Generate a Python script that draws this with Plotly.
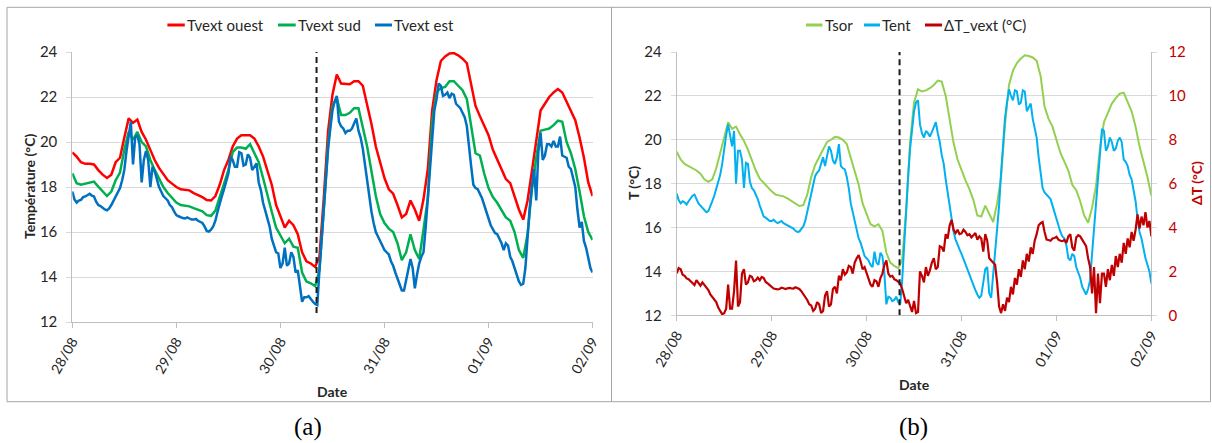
import numpy as np
import pandas as pd
import plotly.graph_objects as go

# ---------------- data (28/08 00:00 -> 02/09 00:00) ----------------
start = pd.Timestamp("2014-08-28 00:00")
end = pd.Timestamp("2014-09-02 00:00")
event_time = pd.Timestamp("2014-08-30 08:20")
date_labels = ["28/08", "29/08", "30/08", "31/08", "01/09", "02/09"]

# hourly readings
tvext_ouest = [
    19.54, 19.35, 19.10, 19.03, 19.03, 19.00, 18.75, 18.55, 18.40, 18.55,
    19.10, 19.30, 20.20, 21.05, 20.85, 21.00, 20.45, 20.10, 19.65, 19.20,
    18.85, 18.55, 18.30, 18.15, 18.00, 17.90, 17.87, 17.85, 17.73, 17.65,
    17.55, 17.42, 17.40, 17.60, 18.10, 18.75, 19.20, 19.80, 20.15, 20.30,
    20.30, 20.30, 20.15, 19.80, 19.35, 18.75, 18.10, 17.20, 16.70, 16.20,
    16.50, 16.30, 15.90, 15.10, 14.70, 14.60, 14.45, 14.90, 17.50, 20.50,
    22.10, 23.00, 22.60, 22.57, 22.57, 22.70, 22.70, 22.50, 21.70, 20.80,
    19.80, 19.05, 18.40, 17.90, 17.70, 17.20, 16.65, 16.80, 17.40, 17.00,
    16.50, 17.45, 18.80, 21.40, 22.75, 23.60, 23.80, 23.93, 23.95, 23.85,
    23.70, 23.50, 22.60, 21.60, 21.15, 20.70, 20.30, 19.65, 19.20, 18.80,
    18.35, 18.17, 17.60, 17.00, 16.55, 17.40, 18.70, 20.10, 21.40, 21.70,
    22.00, 22.20, 22.35, 22.20, 21.80, 21.40, 20.97, 20.20, 19.30, 18.20,
    17.60,
]
tvext_sud = [
    18.61, 18.17, 18.10, 18.14, 18.17, 18.24, 18.02, 17.80, 17.60, 17.80,
    18.30, 18.64, 19.65, 20.45, 20.10, 20.45, 20.00, 19.80, 19.20, 18.76,
    18.40, 18.00, 17.73, 17.50, 17.31, 17.20, 17.18, 17.14, 17.06, 16.99,
    16.92, 16.75, 16.72, 16.95, 17.55, 18.20, 18.75, 19.55, 19.75, 19.75,
    19.70, 19.90, 19.50, 19.10, 18.40, 17.60, 16.90, 16.20, 15.85, 15.50,
    15.70, 15.35, 15.30, 14.20, 13.80, 13.72, 13.60, 14.30, 17.00, 19.90,
    21.60, 21.95, 21.20, 21.20, 21.30, 21.50, 21.50, 20.60, 19.80, 18.70,
    17.60, 16.80, 16.40, 16.15, 16.00, 15.50, 14.75, 15.10, 15.90, 15.20,
    14.80, 16.10, 17.50, 20.90, 22.20, 22.40, 22.45, 22.70, 22.70, 22.50,
    22.30, 21.90, 20.60, 19.50, 19.40, 18.60, 17.95, 17.55, 17.30, 17.00,
    16.65, 16.50, 16.00, 15.20, 14.85, 15.90, 17.90, 19.30, 20.50, 20.55,
    20.60, 20.75, 20.95, 20.90, 20.00, 19.50, 18.80, 17.80, 16.70, 16.00,
    15.65,
]
tsor = [
    19.45, 19.10, 18.90, 18.80, 18.72, 18.60, 18.45, 18.20, 18.08, 18.20,
    18.70, 19.40, 20.20, 20.80, 20.50, 20.60, 20.25, 19.95, 19.55, 19.05,
    18.60, 18.23, 18.02, 17.85, 17.65, 17.50, 17.47, 17.42, 17.33, 17.22,
    17.10, 16.98, 17.02, 17.50, 18.30, 18.85, 19.20, 19.55, 19.90, 20.00,
    20.13, 20.10, 20.00, 19.80, 19.20, 18.60, 17.95, 17.10, 16.64, 16.15,
    16.05, 16.15, 15.85, 14.85, 14.40, 14.25, 14.15, 14.50, 16.80, 19.90,
    21.70, 22.30, 22.20, 22.25, 22.35, 22.50, 22.70, 22.65, 22.00, 21.00,
    19.85, 19.10, 18.60, 18.15, 17.75, 17.25, 16.55, 16.50, 17.00, 16.60,
    16.25, 17.10, 18.30, 20.70, 22.50, 23.15, 23.50, 23.70, 23.85, 23.82,
    23.75, 23.60, 22.90, 21.50, 20.95, 20.60, 20.00, 19.40, 19.00, 18.60,
    17.95, 17.70, 17.20, 16.55, 16.22, 16.90, 17.90, 19.60, 20.80, 21.25,
    21.65, 21.90, 22.10, 22.15, 21.75, 21.30, 20.60, 19.70, 19.00, 18.30,
    17.45,
]

# half-hourly readings (noisier signals)
tvext_est = [
    17.80, 17.45, 17.31, 17.40, 17.43, 17.55, 17.58, 17.65, 17.70, 17.62,
    17.58, 17.35, 17.20, 17.15, 17.06, 17.00, 16.96, 17.05, 17.20, 17.40,
    17.58, 17.75, 17.95, 18.30, 18.76, 19.60, 20.20, 20.90, 19.00, 20.20,
    20.30, 19.90, 18.20, 19.20, 19.60, 19.20, 18.00, 18.90, 18.70, 18.30,
    18.00, 17.80, 17.60, 17.50, 17.40, 17.20, 17.10, 16.90, 16.75, 16.70,
    16.65, 16.62, 16.60, 16.65, 16.60, 16.55, 16.55, 16.58, 16.50, 16.45,
    16.40, 16.25, 16.05, 16.02, 16.10, 16.25, 16.50, 16.90, 17.30, 17.60,
    17.90, 18.30, 18.60, 19.35, 19.20, 18.90, 18.90, 19.55, 19.50, 18.95,
    19.00, 19.45, 19.30, 18.75, 18.90, 19.05, 18.20, 17.85, 17.30, 16.95,
    16.60, 16.25, 15.70, 15.35, 15.10, 15.05, 14.40, 14.60, 15.30, 14.50,
    14.60, 15.10, 14.90, 14.20, 14.30, 13.60, 12.90, 13.10, 13.10, 13.15,
    13.00, 12.90, 12.80, 12.75, 14.30, 15.70, 17.20, 18.50, 19.70, 20.60,
    21.40, 21.80, 22.05, 20.90, 20.70, 20.60, 20.40, 20.50, 20.50, 20.60,
    20.80, 21.05, 20.50, 20.20, 19.70, 19.00, 18.20, 17.50, 16.90, 16.40,
    16.00, 15.80, 15.60, 15.45, 15.20, 15.10, 15.00, 14.70, 14.50, 14.20,
    13.90, 13.60, 13.40, 13.40, 13.90, 14.40, 14.80, 14.40, 13.50, 14.10,
    14.60, 14.90, 15.10, 16.20, 17.50, 19.20, 20.50, 21.40, 21.90, 22.60,
    22.50, 22.05, 22.10, 22.20, 21.95, 22.15, 22.10, 21.70, 21.60, 21.50,
    21.30, 21.10, 20.70, 19.70, 18.90, 18.10, 17.95, 17.90, 17.70, 17.50,
    17.20, 16.85, 16.60, 16.30, 16.10, 15.95, 15.90, 15.70, 15.50, 15.20,
    15.50, 15.40, 14.90, 14.70, 14.40, 14.10, 13.80, 13.65, 13.70, 14.40,
    15.80, 17.10, 18.00, 18.80, 17.40, 19.60, 20.40, 19.20, 19.40, 19.90,
    19.90, 19.80, 20.05, 19.80, 19.80, 20.24, 19.40, 19.35, 19.30, 18.90,
    18.80, 18.40, 18.00, 17.00, 16.20, 16.45, 15.60, 15.30, 14.80, 14.40,
    14.20,
]
tent = [
    17.55, 17.25, 17.10, 17.20, 17.15, 17.05, 17.20, 17.35, 17.45, 17.50,
    17.32, 17.10, 17.00, 16.90, 16.80, 16.70, 16.75, 16.95, 17.20, 17.45,
    17.75, 18.10, 18.40, 18.90, 19.60, 20.20, 20.70, 20.10, 19.70, 20.40,
    18.00, 19.50, 19.50, 19.10, 17.80, 18.95, 18.90, 18.10, 17.80, 17.70,
    17.50, 17.30, 17.00, 16.70, 16.50, 16.45, 16.38, 16.30, 16.30, 16.35,
    16.26, 16.20, 16.25, 16.30, 16.20, 16.15, 16.12, 16.05, 16.00, 15.95,
    15.85, 15.80, 15.82, 15.95, 16.05, 16.30, 16.70, 17.20, 17.60, 18.00,
    18.35, 18.50, 18.60, 18.90, 19.20, 18.80, 19.30, 19.70, 19.50, 19.05,
    18.90, 19.20, 19.80, 18.80, 18.70, 18.65, 18.30, 17.80, 17.10, 16.70,
    16.40, 16.00, 15.50, 15.30, 15.00, 14.70, 14.60, 14.50, 14.30, 14.20,
    14.90, 14.40, 14.30, 14.85, 14.70, 13.90, 12.50, 12.85, 12.80, 12.65,
    12.70, 12.85, 12.60, 12.50, 13.60, 15.30, 17.00, 18.30, 19.60, 20.60,
    21.30, 21.70, 21.80, 20.70, 20.30, 20.10, 20.40, 20.30, 20.15, 20.35,
    20.60, 20.80, 20.30, 19.90, 19.30, 18.90, 18.20, 17.60, 17.00, 16.40,
    15.80, 15.45, 15.20, 15.00, 14.80, 14.55, 14.35, 14.10, 13.90, 13.65,
    13.40, 13.15, 12.95, 12.80, 12.90, 13.50, 14.10, 14.20, 13.00, 12.80,
    13.90, 14.70, 15.80, 17.00, 18.50, 20.00, 21.00, 21.70, 22.30, 22.00,
    21.80, 22.25, 22.20, 21.60, 21.70, 22.25, 22.20, 21.30, 21.50, 21.65,
    20.95, 20.50, 20.10, 19.20, 18.40, 17.80, 17.60, 17.50, 17.45, 17.30,
    17.00, 16.70, 16.34, 16.10, 15.80, 15.60, 15.50, 15.20, 14.60, 14.50,
    14.80, 14.70, 14.20, 13.95, 13.70, 13.30, 13.10, 12.95, 13.20, 13.60,
    14.80, 16.00, 17.30, 18.50, 19.30, 20.50, 20.40, 19.50, 19.70, 20.10,
    19.90, 19.50, 19.60, 19.95, 20.10, 19.90, 19.10, 19.00, 18.80, 18.40,
    18.20, 17.70, 17.20, 16.40, 15.80, 15.50, 15.00, 14.60, 14.30, 14.00,
    13.45,
]
delta_t_vext = [
    1.91, 2.15, 2.10, 1.85, 1.80, 1.68, 1.65, 1.55, 1.45, 1.38,
    1.60, 1.45, 1.35, 1.50, 1.40, 1.25, 1.15, 0.95, 0.85, 0.75,
    0.60, 0.35, 0.20, 0.05, 0.10, 0.30, 1.40, 0.30, 0.30, 1.10,
    2.50, 0.40, 0.60, 1.90, 2.10, 1.40, 1.50, 1.80, 1.75, 1.55,
    1.60, 1.72, 1.60, 1.75, 1.70, 1.52, 1.45, 1.35, 1.30, 1.22,
    1.20, 1.18, 1.20, 1.26, 1.23, 1.20, 1.23, 1.25, 1.23, 1.22,
    1.28, 1.24, 1.20, 1.10, 0.97, 0.85, 0.70, 0.50, 0.45, 0.20,
    0.30, 0.60, 0.50, 0.10, 0.20, 0.90, 1.10, 0.40, 0.50, 1.20,
    1.30, 1.00, 1.80, 1.60, 2.10, 1.85, 1.95, 2.25, 2.20, 1.90,
    2.40, 2.60, 2.75, 2.45, 2.10, 2.20, 1.90, 1.70, 1.40, 1.30,
    1.60, 1.55, 1.30, 1.70, 1.90, 2.30, 2.50, 1.90, 1.76, 1.80,
    1.65, 1.60, 1.50, 1.45, 1.20, 0.90, 0.55, 0.70, 0.40, 0.15,
    0.65, 0.10, 0.15, 2.00, 1.80, 1.50, 2.20, 1.80, 2.05, 2.40,
    2.60, 2.10, 2.20, 3.15, 3.10, 2.90, 3.70, 3.50, 4.10, 4.35,
    3.90, 3.75, 3.90, 3.70, 3.73, 3.90, 3.80, 3.65, 3.70, 3.55,
    3.65, 3.75, 3.45, 3.60, 3.50, 2.90, 3.70, 3.40, 2.60, 2.50,
    2.40, 2.30, 1.50, 0.40, 0.10, 0.50, 0.20, 0.80, 0.60, 1.30,
    0.95, 1.70, 1.40, 2.10, 1.75, 2.50, 2.10, 2.80, 2.45, 3.10,
    2.80, 3.40, 3.70, 4.10, 4.20, 4.25, 3.80, 3.45, 3.43, 3.40,
    3.50, 3.52, 3.58, 3.45, 3.40, 3.38, 3.43, 3.30, 3.60, 3.70,
    3.10, 2.95, 3.55, 3.65, 3.60, 3.45, 3.30, 3.15, 2.60, 2.20,
    1.00, 2.20, 0.10, 1.90, 0.55, 1.90, 1.90, 1.30, 2.10, 1.60,
    2.30, 1.80, 2.70, 2.20, 2.80, 2.40, 3.30, 2.80, 3.50, 3.10,
    3.80, 3.40, 3.90, 4.60, 3.95, 4.50, 4.10, 4.70, 4.00, 4.30,
    3.60,
]

for s in (tvext_ouest, tvext_sud, tsor):
    assert len(s) == 121, len(s)
for s in (tvext_est, tent, delta_t_vext):
    assert len(s) == 241, len(s)

times = pd.date_range(start, periods=121, freq="h")
times_half = pd.date_range(start, periods=241, freq="30min")
day_ticks = pd.date_range(start, end, freq="D")

# ---------------- layout helpers ----------------
W, H = 1212, 443
FONT = "Lato"
TXT = "#262626"
AX = "#BFBFBF"
GRID = "#D9D9D9"
DARKRED = "#C00000"


def fx(p):
    return p / W


def fy(p):
    return 1 - p / H


fig = go.Figure()

# (a) Tvext
fig.add_trace(go.Scatter(x=times, y=tvext_ouest, name="Tvext ouest", mode="lines",
                         line=dict(color="#FF0000", width=2.5), xaxis="x", yaxis="y"))
fig.add_trace(go.Scatter(x=times, y=tvext_sud, name="Tvext sud", mode="lines",
                         line=dict(color="#00B050", width=2.5), xaxis="x", yaxis="y"))
fig.add_trace(go.Scatter(x=times_half, y=tvext_est, name="Tvext est", mode="lines",
                         line=dict(color="#0070C0", width=2.5), xaxis="x", yaxis="y"))
# (b) Tsor / Tent / dT
fig.add_trace(go.Scatter(x=times, y=tsor, name="Tsor", mode="lines",
                         line=dict(color="#92D050", width=2), xaxis="x2", yaxis="y2"))
fig.add_trace(go.Scatter(x=times_half, y=tent, name="Tent", mode="lines",
                         line=dict(color="#00B0F0", width=2), xaxis="x2", yaxis="y2"))
fig.add_trace(go.Scatter(x=times_half, y=delta_t_vext, name="ΔT_vext (°C)", mode="lines",
                         line=dict(color=DARKRED, width=2.2), xaxis="x2", yaxis="y3"))

xcommon = dict(type="date", range=[start, end], tickvals=day_ticks, ticktext=date_labels,
               tickangle=-60, ticks="outside", ticklen=5, tickcolor=AX, automargin=False,
               showline=True, linecolor=AX, linewidth=1, showgrid=False, zeroline=False,
               tickfont=dict(family=FONT, size=14, color=TXT), fixedrange=True)
ycommon = dict(range=[12, 24], tick0=12, dtick=2, showgrid=True, gridcolor=GRID, gridwidth=1,
               showline=True, linecolor=AX, linewidth=1, ticks="outside", ticklen=5,
               tickcolor=GRID, zeroline=False, ticklabelstandoff=6, automargin=False,
               tickfont=dict(family=FONT, size=15, color=TXT), fixedrange=True)

fig.update_layout(
    width=W, height=H, autosize=False,
    margin=dict(l=0, r=0, t=0, b=0, pad=0, autoexpand=False),
    paper_bgcolor="white", plot_bgcolor="white",
    showlegend=False,
    font=dict(family=FONT, size=14, color=TXT),
    xaxis=dict(domain=[fx(72.3), fx(592.6)], anchor="y", **xcommon),
    yaxis=dict(domain=[fy(322), fy(52)], anchor="x", **ycommon),
    xaxis2=dict(domain=[fx(676.7), fx(1151.4)], anchor="y2", **xcommon),
    yaxis2=dict(domain=[fy(315.3), fy(52)], anchor="x2", **ycommon),
    yaxis3=dict(overlaying="y2", side="right", anchor="x2", range=[0, 12], tick0=0, dtick=2,
                showgrid=False, showline=True, linecolor=AX, linewidth=1, ticks="outside",
                ticklen=5, tickcolor=GRID, zeroline=False, ticklabelstandoff=8, automargin=False,
                tickfont=dict(family=FONT, size=15, color=DARKRED), fixedrange=True),
)

shapes = []
# panel frames
shapes.append(dict(type="rect", xref="paper", yref="paper", x0=fx(7), x1=fx(611.5),
                   y0=fy(401.7), y1=fy(7.3), line=dict(color="#A6A6A6", width=1)))
shapes.append(dict(type="rect", xref="paper", yref="paper", x0=fx(611.5), x1=fx(1210.5),
                   y0=fy(401.7), y1=fy(7.3), line=dict(color="#A6A6A6", width=1)))
# event markers (dashed)
shapes.append(dict(type="line", xref="x", yref="y", x0=event_time, x1=event_time, y0=12.4, y1=24,
                   line=dict(color="#1A1A1A", width=2, dash="6px,4px")))
shapes.append(dict(type="line", xref="x2", yref="y2", x0=event_time, x1=event_time, y0=12, y1=24,
                   line=dict(color="#1A1A1A", width=2, dash="6px,4px")))

annotations = []
# custom legends (line sample + label)
legend_y = fy(25)
legend_items = [
    ("Tvext ouest", "#FF0000", 167.4, 184.8),
    ("Tvext sud", "#00B050", 278.0, 295.7),
    ("Tvext est", "#0070C0", 375.0, 392.0),
    ("Tsor", "#92D050", 806.0, 822.5),
    ("Tent", "#00B0F0", 864.0, 880.0),
    ("ΔT_vext (°C)", DARKRED, 925.0, 942.0),
]
for label, color, x0, x1 in legend_items:
    shapes.append(dict(type="line", xref="paper", yref="paper", x0=fx(x0), x1=fx(x1),
                       y0=legend_y, y1=legend_y, line=dict(color=color, width=3)))
    annotations.append(dict(text=label, xref="paper", yref="paper", x=fx(x1), y=legend_y,
                            xanchor="left", yanchor="middle", showarrow=False,
                            font=dict(family=FONT, size=15, color=TXT)))


# axis titles
def title(text, x, y, angle=0, color=TXT):
    annotations.append(dict(text="<b>%s</b>" % text, xref="paper", yref="paper", x=fx(x), y=fy(y),
                            xanchor="center", yanchor="middle", showarrow=False, textangle=angle,
                            font=dict(family=FONT, size=14, color=color)))


title("Température (°C)", 30, 187, -90)
title("Date", 332, 391)
title("T (°C)", 633, 183, -90)
title("Date", 914, 384)
title("ΔT (°C)", 1196, 183, -90, DARKRED)

# captions
for text, x in (("(a)", 308), ("(b)", 913)):
    annotations.append(dict(text=text, xref="paper", yref="paper", x=fx(x), y=fy(427),
                            xanchor="center", yanchor="middle", showarrow=False,
                            font=dict(family="Liberation Serif", size=25, color="#000000")))

fig.update_layout(shapes=shapes, annotations=annotations)
fig.write_html("out.html", config={"displayModeBar": False},
               post_script="document.body.style.margin='0';")
